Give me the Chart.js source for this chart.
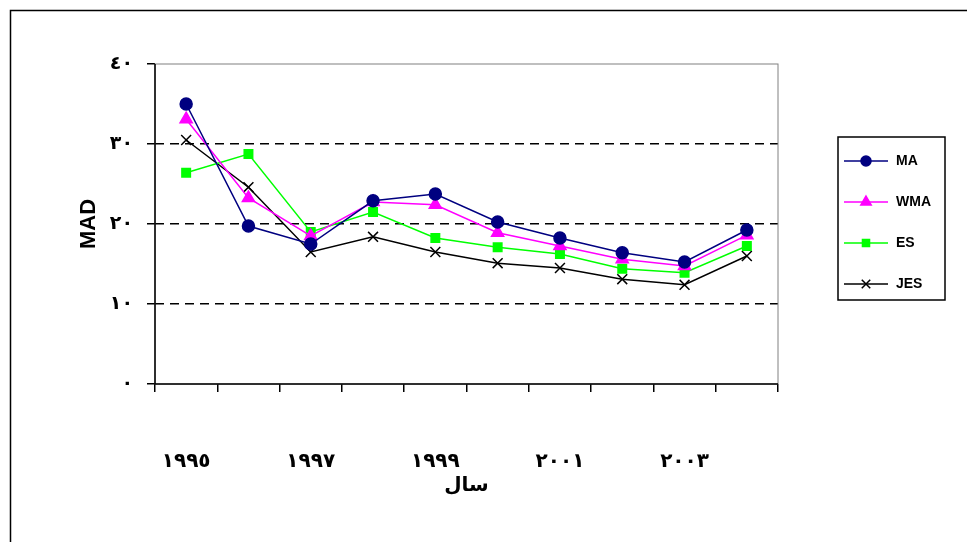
<!DOCTYPE html>
<html><head><meta charset="utf-8">
<script src="https://cdn.jsdelivr.net/npm/chart.js@4/dist/chart.umd.min.js"></script>
<style>html,body{margin:0;padding:0;background:#fff}#w{width:967px;height:542px}</style>
</head><body><div id="w"><canvas id="c"></canvas></div>
<script>
const categories = ['١٩٩٥','١٩٩٦','١٩٩٧','١٩٩٨','١٩٩٩','٢٠٠٠','٢٠٠١','٢٠٠٢','٢٠٠٣','٢٠٠٤'];
const ma  = [35, 19.75, 17.5, 22.9, 23.75, 20.25, 18.25, 16.4, 15.25, 19.25];
const wma = [33.1, 23.25, 18.5, 22.75, 22.4, 18.9, 17.25, 15.6, 14.75, 18.6];
const es  = [26.4, 28.75, 19, 21.5, 18.25, 17.1, 16.25, 14.4, 13.9, 17.25];
const jes = [30.5, 24.6, 16.5, 18.4, 16.5, 15.1, 14.5, 13.1, 12.4, 16];
const yTickLabels = {0:'٠',10:'١٠',20:'٢٠',30:'٣٠',40:'٤٠'};

const ds = (label, data, color, ps, r) => ({label, data, borderColor: color, backgroundColor: color,
  pointBackgroundColor: color, pointBorderColor: color, pointStyle: ps, pointRadius: r, borderWidth: 1.5, tension: 0});
const datasets = [
  ds('MA', ma, '#000080', 'circle', 6),
  ds('WMA', wma, '#ff00ff', 'triangle', 7),
  ds('ES', es, '#00ff00', 'rect', 6),
  ds('JES', jes, '#000000', 'crossRot', 7)
];

const frame = {id:'frame',
  beforeDraw(c){const x=c.ctx;x.save();x.fillStyle='#fff';x.fillRect(0,0,c.width,c.height);
    x.strokeStyle='#000';x.lineWidth=1.5;x.strokeRect(10.5,10.5,c.width+20,c.height+20);x.restore();},
  beforeDatasetsDraw(c){const a=c.chartArea,x=c.ctx;x.save();x.strokeStyle='#808080';x.lineWidth=1;
    x.strokeRect(a.left,a.top,a.right-a.left,a.bottom-a.top);
    x.strokeStyle='#000';x.lineWidth=1.5;x.beginPath();x.moveTo(a.left,a.top);x.lineTo(a.left,a.bottom);x.lineTo(a.right,a.bottom);x.stroke();x.restore();},
  afterDraw(c){const x=c.ctx;x.save();
    const bx=838,by=137,bw=107,bh=163;x.strokeStyle='#000';x.lineWidth=1.5;x.strokeRect(bx,by,bw,bh);
    c.data.datasets.forEach((d,i)=>{const y=by+24+i*41;
      x.strokeStyle=d.borderColor;x.lineWidth=1.5;x.beginPath();x.moveTo(bx+6,y);x.lineTo(bx+50,y);x.stroke();
      x.fillStyle=d.pointBackgroundColor;x.strokeStyle=d.pointBorderColor;
      x.beginPath();Chart.helpers.drawPoint(x,{pointStyle:d.pointStyle,radius:d.pointRadius-1,borderWidth:1.5},bx+28,y);
      x.fillStyle='#000';x.font='bold 14px Arial, Liberation Sans';x.textBaseline='middle';x.fillText(d.label,bx+58,y);});
    x.restore();}
};

new Chart(document.getElementById('c'), {
  type:'line',
  data:{labels:categories, datasets},
  plugins:[frame],
  options:{responsive:true,maintainAspectRatio:false,animation:false,
    layout:{padding:{top:64,right:189,left:72,bottom:40}},
    plugins:{legend:{display:false},tooltip:{enabled:false}},
    scales:{
      x:{offset:true,
        grid:{offset:true,drawOnChartArea:false,tickLength:8,color:'#000',lineWidth:1.5},
        border:{display:false},
        ticks:{autoSkip:false,maxRotation:0,padding:58,color:'#000',font:{size:20,weight:'bold',family:'DejaVu Sans'},
          callback:(v,i)=>i%2===0?categories[i]:''},
        title:{display:true,text:'سال',color:'#000',font:{size:20,weight:'bold',family:'DejaVu Sans'},padding:{top:2}},
        afterFit:s=>{s.height=118;}},
      y:{min:0,max:40,
        grid:{drawTicks:true,tickLength:8,color:ctx=>(ctx.tick&&ctx.tick.value>0&&ctx.tick.value<40)?'#000':'rgba(0,0,0,0)',
          tickColor:'#000',lineWidth:1.5},
        border:{display:false,dash:[9,6]},
        ticks:{stepSize:10,color:'#000',padding:14,font:{size:19,weight:'bold',family:'DejaVu Sans'},callback:v=>yTickLabels[v]},
        title:{display:true,text:'MAD',color:'#000',font:{size:22,weight:'bold',family:'Arial, Liberation Sans'},padding:{bottom:0}},
        afterFit:s=>{s.width=83;}}
    }}
});
</script></body></html>
